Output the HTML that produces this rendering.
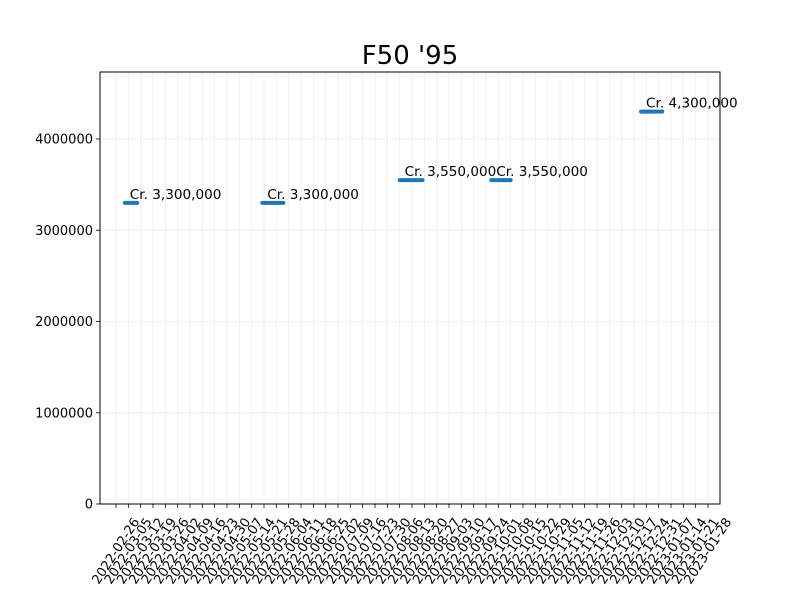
<!DOCTYPE html>
<html><head><meta charset="utf-8"><style>
body{margin:0;background:#fff;}
svg{display:block;font-family:"DejaVu Sans","Liberation Sans",sans-serif;}
</style></head><body>
<svg id="chart" width="800" height="600" xmlns="http://www.w3.org/2000/svg">
<rect width="800" height="600" fill="#fff"/>
<text x="410" y="64" text-anchor="middle" font-size="26">F50 '95</text>
<g id="grid"></g>
<g id="marks"></g>
<g id="axes"></g>
</svg>
<script>
const segStart = ["2022-03-03","2022-05-20","2022-08-06","2022-09-27","2022-12-21"];
const segEnd = ["2022-03-10","2022-06-01","2022-08-19","2022-10-08","2023-01-02"];
const segValue = [3300000,3300000,3550000,3550000,4300000];
const segLabel = ["Cr. 3,300,000","Cr. 3,300,000","Cr. 3,550,000","Cr. 3,550,000","Cr. 4,300,000"];
const yTicks = [0,1000000,2000000,3000000,4000000];
const firstTick = "2022-02-26";
const tickCount = 49;

const NS="http://www.w3.org/2000/svg";
const L=100,R=720,T=72,B=504;
const day=86400000;
const t0=Date.parse(firstTick+"T00:00:00Z");
function x(d){const t=Date.parse(d+"T00:00:00Z");return 116+(t-t0)/day*(592/336);}
function y(v){return 504-v*(365/4000000);}
function mk(tag,attrs,parent){const e=document.createElementNS(NS,tag);for(const k in attrs)e.setAttribute(k,attrs[k]);parent.appendChild(e);return e;}
const grid=document.getElementById('grid'),axes=document.getElementById('axes'),marks=document.getElementById('marks');
for(let i=0;i<tickCount;i++){
  const dt=new Date(t0+i*7*day);const s=dt.toISOString().slice(0,10);
  const px=x(s);
  const g=mk('line',{x1:px,x2:px,y1:T,y2:B,stroke:'#ebebeb','stroke-width':0.8},grid);
  
  
  const tk=mk('line',{x1:px,x2:px,y1:B,y2:B+4,stroke:'#000','stroke-width':0.8},axes);
  
  
  const cy=B+47;
  const tx=mk('text',{x:px,y:cy+4,'font-size':13,'text-anchor':'middle',transform:`rotate(-57 ${px} ${cy})`},axes);
  tx.textContent=s;
  
  
}
yTicks.forEach(v=>{
  const py=y(v);
  const g=mk('line',{x1:L,x2:R,y1:py,y2:py,stroke:'#ebebeb','stroke-width':0.8},grid);
  
  
  const tk=mk('line',{x1:L-4,x2:L,y1:py,y2:py,stroke:'#000','stroke-width':0.8},axes);
  
  
  const tx=mk('text',{x:L-7,y:py+4.5,'font-size':13,'text-anchor':'end'},axes);
  tx.textContent=String(v);
  
  
});
const fr=mk('rect',{x:L,y:T,width:R-L,height:B-T,fill:'none',stroke:'#000','stroke-width':1},axes);


segValue.forEach((v,i)=>{
  const x1=x(segStart[i]),x2=x(segEnd[i]),py=y(v);
  const ln=mk('line',{x1:x1,x2:x2,y1:py,y2:py,stroke:'#1f77b4','stroke-width':4,'stroke-linecap':'round'},marks);
  
  
  const tx=mk('text',{x:x1+5,y:py-4,'font-size':13.6},marks);
  tx.textContent=segLabel[i];
  
  
});
</script>
</body></html>
